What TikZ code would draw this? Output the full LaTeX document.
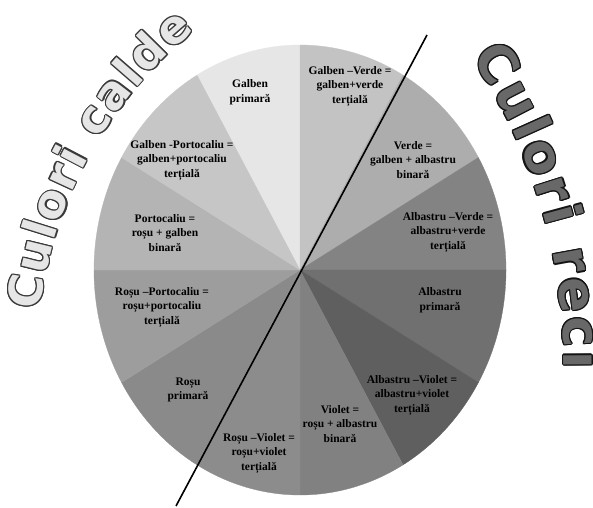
\documentclass[tikz,border=0pt]{standalone}
\usepackage{fontspec}
\usetikzlibrary{decorations.text}
\newfontfamily\labelfont{Liberation Serif}
\newfontfamily\titlefont{DejaVu Sans}
\definecolor{cGal}{HTML}{E6E6E6}
\definecolor{cGV}{HTML}{C3C3C3}
\definecolor{cVer}{HTML}{ADADAD}
\definecolor{cAV}{HTML}{838383}
\definecolor{cAlb}{HTML}{707070}
\definecolor{cAVi}{HTML}{5F5F5F}
\definecolor{cVio}{HTML}{818181}
\definecolor{cRV}{HTML}{8C8C8C}
\definecolor{cRos}{HTML}{8A8A8A}
\definecolor{cRP}{HTML}{9D9D9D}
\definecolor{cPor}{HTML}{B4B4B4}
\definecolor{cGP}{HTML}{C6C6C6}
\definecolor{outL}{HTML}{3A3A3A}
\definecolor{fillL}{HTML}{E6E6E6}
\definecolor{outR}{HTML}{141414}
\definecolor{fillR}{HTML}{686868}
\newcommand\arcLeft[2]{\path[#1, decorate, decoration={text along path,
  text={|\titlefont\bfseries\fontsize{46}{46}\selectfont|Culori calde},
  text align={fit to path}, text color=#2}]
  ([shift={(173.3:422)}]459,147) arc[start angle=173.3, end angle=128.7, radius=422];}
\newcommand\arcRight[2]{\path[#1, decorate, decoration={text along path,
  text={|\titlefont\bfseries\fontsize{52}{52}\selectfont|Culori reci},
  text align={fit to path}, text color=#2}]
  ([shift={(33.5:557)}]7,143) arc[start angle=33.5, end angle=-0.5, radius=557];}
\tikzset{
  lbl/.style={font=\labelfont\bfseries\fontsize{11.5}{14.5}\selectfont, align=center, inner sep=0pt},
  divline/.style={line width=1.6pt, black}
}
\begin{document}
\begin{tikzpicture}[x=1pt,y=1pt]
\useasboundingbox (0,0) rectangle (593,507);
\clip (0,0) rectangle (593,507);
\fill[white] (0,0) rectangle (593,507);
\coordinate (O) at (300,237);
\begin{scope}[shift={(O)}, yscale=1.0922]
  \foreach \a/\c in {120/cGal,90/cGV,60/cVer,30/cAV,0/cAlb,-30/cAVi,-60/cVio,-90/cRV,-120/cRos,-150/cRP,180/cPor,150/cGP}{
    \fill[\c, draw=\c, line width=0.3pt] (0,0) -- (\a:206) arc[start angle=\a, delta angle=-30, radius=206] -- cycle;
  }
\end{scope}
\node[lbl] (gal) at (250,415) {Galben\\primară};
\node[lbl] (gv) at (350,421) {Galben –Verde =\\galben+verde\\terțială};
\node[lbl] (ver) at (413,347) {Verde =\\galben + albastru\\binară};
\node[lbl] (av) at (448,275) {Albastru –Verde =\\albastru+verde\\terțială};
\node[lbl] (alb) at (440,207) {Albastru\\primară};
\node[lbl] (avi) at (412,112) {Albastru –Violet =\\albastru+violet\\terțială};
\node[lbl] (vio) at (340,83) {Violet =\\roșu + albastru\\binară};
\node[lbl] (rv) at (259,54) {Roșu –Violet =\\roșu+violet\\terțială};
\node[lbl] (ros) at (188,117) {Roșu\\primară};
\node[lbl] (rp) at (162,200) {Roșu –Portocaliu =\\roșu+portocaliu\\terțială};
\node[lbl] (por) at (165,274) {Portocaliu =\\roșu + galben\\binară};
\node[lbl] (gp) at (182,347) {Galben -Portocaliu =\\galben+portocaliu\\terțială};
\coordinate (lt) at (427,472);
\coordinate (lb) at (176,1);
\draw[divline] (lt) -- (lb);
\foreach \a in {0,30,...,330}{\arcLeft{shift={(\a:1.2)}}{outL}}
\arcLeft{}{fillL}
\foreach \a in {0,30,...,330}{\arcRight{shift={(\a:1.2)}}{outR}}
\arcRight{}{fillR}
\end{tikzpicture}
\end{document}
